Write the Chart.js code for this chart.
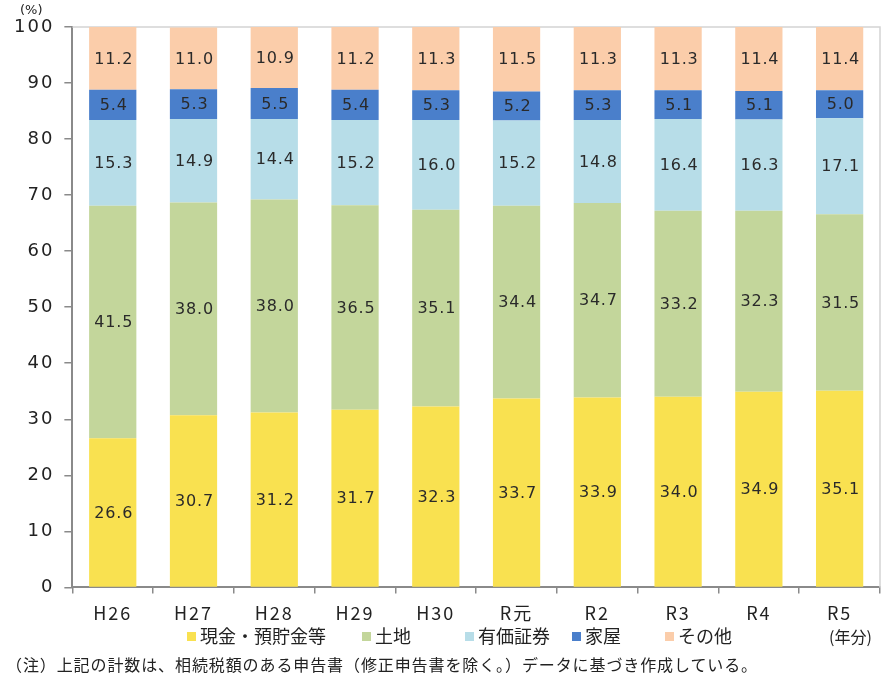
<!DOCTYPE html>
<html><head><meta charset="utf-8">
<script src="https://cdn.jsdelivr.net/npm/chart.js@4.4.1/dist/chart.umd.min.js"></script>
<style>
html,body{margin:0;padding:0;background:#fff;width:892px;height:686px;overflow:hidden;font-family:"Noto Sans CJK JP",sans-serif;}
#wrap{position:absolute;left:0;top:0;width:892px;height:686px;}
.t{position:absolute;color:#222;font-family:"Noto Sans CJK JP";white-space:nowrap;line-height:1;}
#note{left:6px;top:656px;font-size:16px;letter-spacing:0.9px;}
#unit{left:829px;top:628px;font-size:16px;}
#pct{left:20px;top:3px;font-size:13px;font-family:"DejaVu Sans";}
.lg{position:absolute;top:626px;font-size:18px;line-height:1;color:#222;font-family:"Noto Sans CJK JP";white-space:nowrap;}
.lg i{position:absolute;left:0;top:6px;width:9px;height:9px;}
.lg span{position:absolute;left:13px;top:0;}
</style></head>
<body>
<div id="wrap"><canvas id="c"></canvas></div>
<div id="pct" class="t">(%)</div>
<div id="unit" class="t">(年分)</div>
<div id="note" class="t">（注）上記の計数は、相続税額のある申告書（修正申告書を除く。）データに基づき作成している。</div>
<div id="legend"></div>
<script>
const categories = ["H26","H27","H28","H29","H30","R元","R2","R3","R4","R5"];
const seriesNames = ["現金・預貯金等","土地","有価証券","家屋","その他"];
const cash   = [26.6,30.7,31.2,31.7,32.3,33.7,33.9,34.0,34.9,35.1];
const land   = [41.5,38.0,38.0,36.5,35.1,34.4,34.7,33.2,32.3,31.5];
const secur  = [15.3,14.9,14.4,15.2,16.0,15.2,14.8,16.4,16.3,17.1];
const house  = [5.4,5.3,5.5,5.4,5.3,5.2,5.3,5.1,5.1,5.0];
const other  = [11.2,11.0,10.9,11.2,11.3,11.5,11.3,11.3,11.4,11.4];
const yTicks = [0,10,20,30,40,50,60,70,80,90,100];
const colors = ["#F9E150","#C3D69B","#B7DDE8","#4A7FCB","#FBCDAA"];
const legendX = [187,362,465,572,665];

// legend (HTML)
const lg = document.getElementById('legend');
seriesNames.forEach((n,i)=>{
  const d = document.createElement('div');
  d.className='lg'; d.style.left=legendX[i]+'px';
  d.innerHTML = '<i style="background:'+colors[i]+'"></i><span>'+n+'</span>';
  lg.appendChild(d);
});

const spacingPlugin = {
  id:'spacing',
  beforeUpdate(chart){ chart.ctx.letterSpacing='2px'; },
  beforeLayout(chart){ chart.ctx.letterSpacing='2px'; },
  beforeDraw(chart){ chart.ctx.letterSpacing='2px'; }
};
const labelPlugin = {
  id:'barLabels',
  afterDatasetsDraw(chart){
    const ctx = chart.ctx;
    ctx.save();
    ctx.letterSpacing='0.8px';
    ctx.font = '16px "DejaVu Sans"';
    ctx.fillStyle = '#2a2a2a';
    ctx.textAlign = 'center';
    ctx.textBaseline = 'middle';
    chart.data.datasets.forEach((ds,i)=>{
      const meta = chart.getDatasetMeta(i);
      meta.data.forEach((bar,j)=>{
        const v = ds.data[j];
        const y = (bar.y + bar.base)/2;
        ctx.fillText(v.toFixed(1), bar.x+1, y+1);
      });
    });
    ctx.restore();
  }
};
const framePlugin = {
  id:'frame',
  beforeDatasetsDraw(chart){
    const a = chart.chartArea, ctx = chart.ctx;
    ctx.save();
    ctx.strokeStyle = '#d4d4d4';
    ctx.lineWidth = 1.5;
    ctx.beginPath();
    ctx.moveTo(a.left, a.top); ctx.lineTo(a.right, a.top); ctx.lineTo(a.right, a.bottom);
    ctx.stroke();
    ctx.restore();
  }
};

const data = [cash,land,secur,house,other];
new Chart(document.getElementById('c'),{
  type:'bar',
  data:{
    labels:categories,
    datasets:data.map((d,i)=>({label:seriesNames[i],data:d,backgroundColor:colors[i],borderWidth:0,barPercentage:0.585,categoryPercentage:1.0}))
  },
  options:{
    responsive:true,maintainAspectRatio:false,animation:false,
    layout:{padding:{left:4,right:12,top:27,bottom:53}},
    plugins:{
      legend:{display:false},
      tooltip:{enabled:false}
    },
    scales:{
      x:{stacked:true,
        grid:{offset:true,drawOnChartArea:false,drawTicks:true,tickLength:6,color:'#8a8a8a',lineWidth:1.5},
        border:{color:'#8a8a8a',width:2},
        ticks:{color:'#222',font:{family:'"Noto Sans CJK JP"',size:18},padding:9}
      },
      y:{stacked:true,min:0,max:100,
        afterBuildTicks(s){s.ticks = yTicks.map(v=>({value:v}));},
        grid:{drawOnChartArea:false,drawTicks:true,tickLength:8,color:'#8a8a8a',lineWidth:1.5},
        border:{color:'#8a8a8a',width:2},
        ticks:{color:'#222',font:{family:'"DejaVu Sans"',size:18},padding:10}
      }
    }
  },
  plugins:[spacingPlugin,labelPlugin,framePlugin]
});
</script>
</body></html>
